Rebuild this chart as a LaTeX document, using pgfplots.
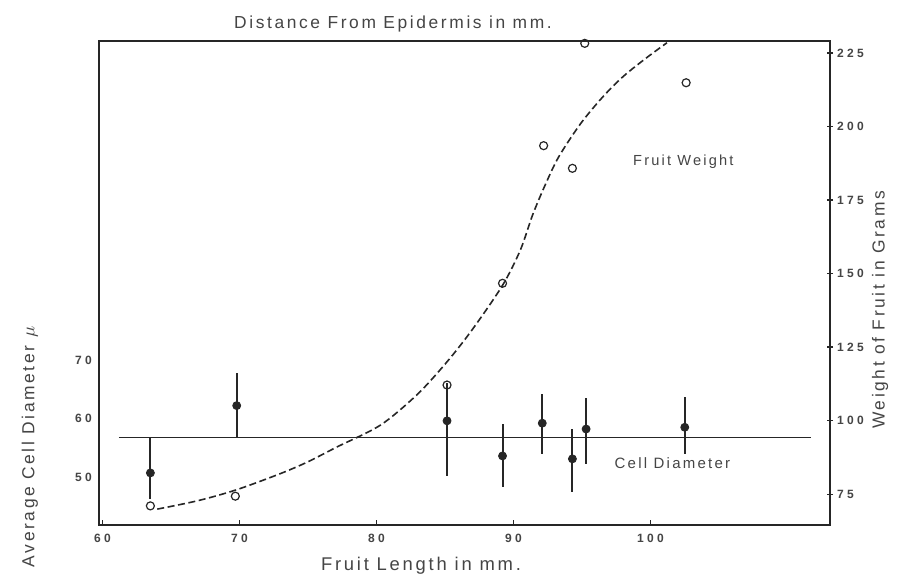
\documentclass[border=0pt]{standalone}
\usepackage{pgfplots}
\pgfplotsset{compat=1.18}
\usepackage{fontspec}
\setmainfont{Liberation Sans}[LetterSpace=15]
\newfontfamily\tickfont{Liberation Sans}[LetterSpace=28]
\definecolor{ink}{HTML}{262626}
\definecolor{txt}{HTML}{454545}
\begin{document}
\begin{tikzpicture}[x=0.5pt,y=0.5pt]
\fill[white] (0,0) rectangle (901,578);
\begin{axis}[
  at={(49.5pt,26.5pt)}, anchor=south west,
  scale only axis, width=365.5pt, height=242pt,
  xmin=59.75, xmax=113.1, ymin=41.8, ymax=124.5,
  xtick={60,70,80,90,100}, ytick={50,60,70},
  axis line style={ink, line width=1pt},
  xtick pos=bottom, ytick pos=left,
  tick align=inside, major tick length=2.5pt,
  x tick style={ink, line width=0.6pt},
  y tick style={draw=none},
  ticklabel style={font=\tickfont\bfseries\fontsize{6}{7}\selectfont, text=txt},
  xticklabel style={yshift=-1pt},
  /pgf/number format/assume math mode=true,
  clip=false,
]
\addplot[ink, line width=0.7pt] coordinates {(61.2,56.8) (111.7,56.8)};
\addplot[ink, only marks, mark=*, mark size=2pt, mark options={fill=ink, draw=ink, line width=0.4pt},
  error bars/.cd, y dir=both, y explicit, error mark=none,
  error bar style={line width=1pt, ink}] coordinates {
  (63.5,50.7) += (0,6.1) -= (0,4.5)
  (69.8,62.2) += (0,5.5) -= (0,5.4)
  (85.15,59.6) += (0,6.5) -= (0,9.5)
  (89.2,53.6) += (0,5.4) -= (0,5.3)
  (92.1,59.2) += (0,4.9) -= (0,5.3)
  (94.3,53.1) += (0,5.1) -= (0,5.6)
  (95.3,58.2) += (0,5.3) -= (0,5.9)
  (102.5,58.5) += (0,5.1) -= (0,4.5)
};
\node[font=\fontsize{7.5}{8}\selectfont, text=txt] at (axis cs:101.6,52.4) {Cell Diameter};
\end{axis}
\begin{axis}[
  at={(49.5pt,26.5pt)}, anchor=south west,
  scale only axis, width=365.5pt, height=242pt,
  xmin=59.75, xmax=113.1, ymin=64.5, ymax=229.1,
  axis x line=none, axis y line*=right,
  ytick={75,100,125,150,175,200,225},
  axis line style={ink, line width=1pt},
  tick align=center, major tick length=3pt,
  y tick style={ink, line width=0.6pt},
  ticklabel style={font=\tickfont\bfseries\fontsize{6}{7}\selectfont, text=txt},
  yticklabel style={xshift=-1.5pt},
  /pgf/number format/assume math mode=true,
  clip=false,
]
\addplot[ink, line width=0.8pt, dash pattern=on 3.5pt off 1.8pt, smooth] coordinates {
  (64.0,69.9) (67,72.8) (69.8,76.5) (73,82) (75,86) (77.1,91) (80.3,98.5) (83,109)
  (85.15,120) (87,131) (89.2,146) (90.5,158) (91.4,170) (92.3,180) (93.3,189.7)
  (94.9,201) (96.5,210) (98,217) (99.6,223) (101.2,228.5)
};
\addplot[ink, only marks, mark=o, mark size=2pt, mark options={line width=0.6pt}] coordinates {
  (63.5,71.0) (69.7,74.3) (85.15,112.1) (89.2,146.7) (92.2,193.5)
  (94.3,185.8) (95.2,228.3) (102.6,214.9)
};
\node[font=\fontsize{7.3}{8}\selectfont, text=txt] at (axis cs:102.4,187.9) {Fruit Weight};
\end{axis}
\node[font=\fontsize{8.7}{10}\selectfont, text=txt] at (393,554) {Distance From Epidermis in mm.};
\node[font=\fontsize{9.2}{10}\selectfont, text=txt] at (421,12) {Fruit Length in mm.};
\node[font=\fontsize{8.7}{10}\selectfont, text=txt, rotate=90] at (30,131) {Average Cell Diameter $\mu$};
\node[font=\fontsize{8.7}{10}\selectfont, text=txt, rotate=90] at (880,268) {Weight of Fruit in Grams};
\pgfresetboundingbox
\path[use as bounding box] (0,0) rectangle (901,578);
\end{tikzpicture}
\end{document}
